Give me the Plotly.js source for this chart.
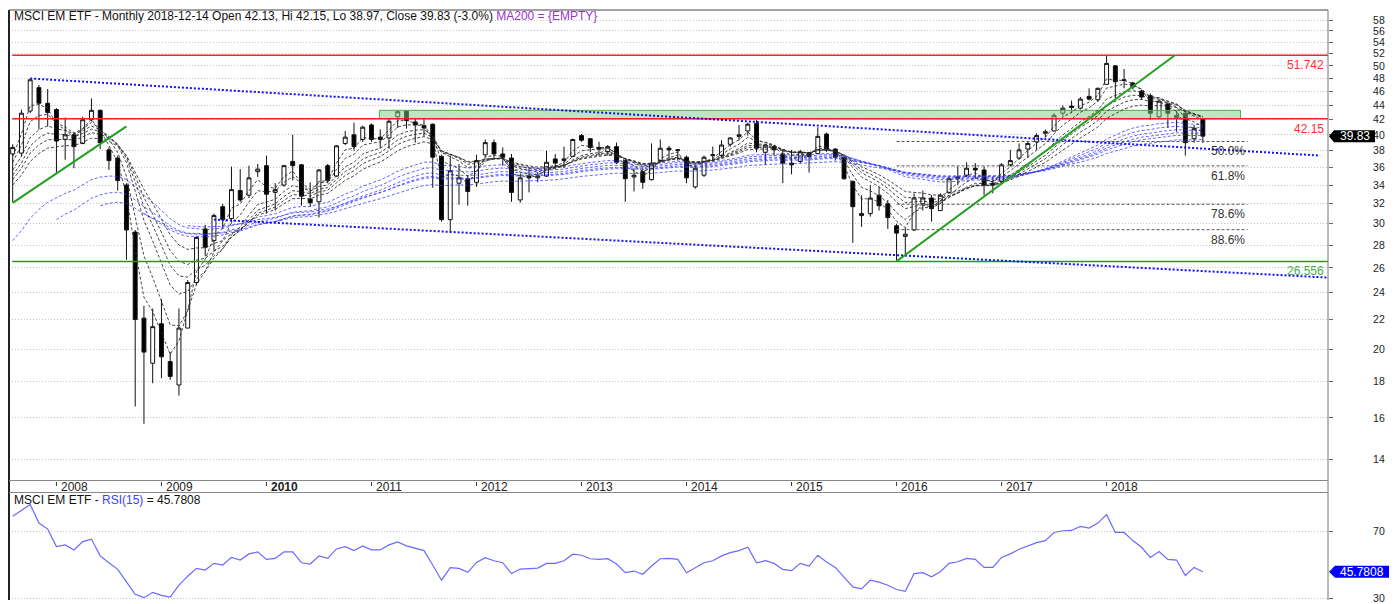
<!DOCTYPE html>
<html>
<head>
<meta charset="utf-8">
<script src="https://cdn.plot.ly/plotly-3.0.1.min.js"></script>
<style>
html,body{margin:0;padding:0;background:#ffffff;}
#chart{width:1394px;height:604px;}
</style>
</head>
<body>
<div id="chart"></div>
<script>
// ---------- DATA (monthly bars, Aug 2007 .. Dec 2018) ----------
const firstMonth = '2007-08';
const open = [37.6,37.7,43.2,46.6,44.3,
  43.4,39.4,40.0,38.9,42.0,43.3,38.1,37.1,34.0,29.2,22.1,19.1,
  21.7,19.2,17.8,21.4,24.8,29.5,28.4,31.7,30.5,33.4,32.9,35.5,
  36.2,33.2,34.0,36.7,36.3,32.5,32.2,36.2,35.0,38.9,40.0,39.4,
  41.3,39.7,39.6,42.4,43.2,41.7,41.2,41.4,37.3,30.4,34.2,34.7,
  34.3,37.5,39.0,37.6,37.1,32.4,35.0,34.8,35.0,37.0,36.8,37.3,
  39.9,39.5,38.4,37.9,38.5,36.8,34.9,35.5,34.6,36.8,38.3,38.0,
  37.2,33.8,35.1,37.4,37.4,38.8,39.8,40.5,41.5,37.8,38.5,37.6,
  36.5,36.7,37.7,37.65,40.1,38.2,37.2,34.4,30.8,31.0,32.9,32.0,
  29.8,28.8,29.4,32.0,32.6,31.3,33.2,34.7,35.1,35.9,35.7,34.2,
  34.4,36.3,37.1,38.2,39.1,40.2,40.5,42.9,43.9,43.6,45.3,44.8,
  47.1,50.0,47.8,47.3,46.1,45.4,42.4,44.2,42.3,42.9,39.5,42.13];
const high = [38.8,43.4,48.0,47.0,46.4,
  43.6,42.3,40.4,42.4,45.0,43.4,38.4,37.4,34.2,29.4,23.0,22.8,
  23.5,19.8,22.8,25.0,28.8,29.9,31.0,32.0,36.1,35.8,36.2,36.4,
  37.4,34.2,36.3,40.0,36.4,34.3,35.8,36.4,38.7,40.5,41.6,41.2,
  41.5,40.7,42.1,43.3,43.3,42.1,42.2,41.5,37.5,37.4,36.4,35.1,
  37.5,39.4,39.4,38.4,37.6,35.3,35.9,35.4,38.0,37.6,38.5,39.5,
  40.1,39.6,39.1,38.7,39.0,37.0,35.9,35.9,38.9,39.4,38.6,38.2,
  37.4,36.3,37.4,38.5,39.3,39.7,41.3,41.6,42.0,38.8,38.7,38.2,
  38.1,38.1,37.85,41.0,40.3,38.3,37.3,34.5,32.9,34.0,33.8,32.4,
  30.0,29.6,33.1,33.4,32.9,33.1,34.9,36.1,36.6,36.5,36.1,34.9,
  36.5,38.1,38.9,39.1,40.2,40.7,42.9,44.0,44.7,45.2,46.5,46.6,
  51.742,50.1,49.5,47.5,46.3,45.7,44.8,44.4,43.3,43.0,41.3,42.15];
const low = [32.2,37.3,42.9,40.7,41.1,
  35.3,36.9,35.9,38.8,41.8,38.2,35.7,33.4,26.7,16.6,15.7,17.9,
  18.2,18.1,17.2,21.4,24.6,27.0,27.5,29.5,30.1,32.2,32.6,34.9,
  31.0,31.3,33.8,34.5,31.8,31.7,30.6,34.2,34.9,38.7,38.0,39.1,
  39.1,38.3,38.2,40.9,40.8,39.0,39.8,33.7,30.2,29.2,31.9,31.8,
  33.8,37.2,37.1,36.2,32.2,32.1,33.2,34.3,34.9,35.8,35.9,37.2,
  39.1,37.8,37.4,37.4,36.4,32.2,33.3,33.6,34.5,36.6,36.9,36.8,
  34.2,33.6,34.9,36.7,37.2,38.5,39.3,39.9,37.8,36.3,37.4,34.2,
  35.2,36.5,35.4,37.6,37.85,36.8,34.6,28.2,29.7,30.7,31.3,29.5,
  26.556,27.2,29.3,31.3,30.2,31.3,33.1,34.0,34.9,34.7,32.9,33.1,
  34.2,36.1,36.9,37.1,38.1,39.7,40.4,42.5,42.9,43.4,44.7,44.5,
  47.0,45.0,46.5,46.3,44.8,42.0,42.2,40.9,40.4,37.4,39.0,38.97];
const close = [38.4,42.9,47.8,44.3,43.0,
  39.2,40.0,38.5,42.0,43.3,39.0,36.8,34.5,29.4,22.0,19.8,21.5,
  19.5,18.3,21.4,24.8,28.7,27.8,30.8,30.4,33.5,32.4,34.8,35.8,
  33.0,33.5,36.2,36.2,32.8,32.1,35.7,34.5,38.6,39.7,38.5,41.0,
  39.4,39.4,41.8,43.1,41.9,41.3,40.9,37.2,30.4,35.6,34.8,33.3,
  36.8,39.0,37.6,37.2,33.2,34.8,34.8,35.0,36.6,36.5,37.0,39.4,
  39.3,38.4,38.2,38.5,36.6,34.7,35.1,34.3,36.5,38.3,38.1,38.1,
  34.8,35.9,37.2,37.5,38.7,39.6,40.0,41.4,38.3,38.7,38.1,36.5,
  36.3,37.85,37.3,39.8,38.2,37.2,34.7,31.7,31.0,32.6,31.8,30.6,
  29.1,29.0,32.6,32.6,31.5,32.9,34.7,34.9,35.9,35.7,34.0,34.0,
  36.3,36.8,38.1,38.9,39.9,40.4,42.6,43.6,43.7,44.9,44.9,46.5,
  50.4,47.5,47.7,46.7,45.2,42.9,44.6,42.9,42.6,39.0,40.8,39.83];
const rsi = [79.1,82.5,86.2,75.0,71.4,
  60.9,61.9,58.9,63.9,65.4,55.3,51.2,47.2,39.7,32.2,30.2,33.4,
  31.6,30.6,37.7,43.1,47.8,46.8,50.8,49.8,54.4,52.8,56.5,57.7,
  53.2,53.8,57.7,57.7,51.2,50.4,55.3,53.8,59.5,60.9,58.5,61.3,
  58.9,58.9,61.9,63.7,61.3,59.7,58.5,49.8,40.7,48.2,47.8,45.4,
  51.4,54.2,52.4,51.2,44.7,47.4,47.6,48.0,50.8,50.8,52.4,56.3,
  55.7,53.6,53.2,53.6,50.4,45.2,46.2,44.3,49.2,53.6,53.8,53.2,
  45.2,48.3,51.2,52.4,55.3,57.3,58.5,60.5,51.2,52.4,50.8,47.2,
  46.4,50.8,49.2,55.7,51.6,48.4,42.7,36.7,35.5,40.7,39.5,37.7,
  35.1,34.0,44.7,45.2,42.7,45.8,50.8,51.8,53.8,53.2,48.4,48.4,
  54.4,56.5,59.3,61.3,63.3,64.5,69.4,70.4,70.6,73.0,72.0,75.0,
  80.1,69.4,69.4,64.5,60.5,54.4,57.9,53.2,52.8,43.5,48.4,45.7808];

// year tick labels and the bar index of each January
const yearLabels = ['2008','2009','2010','2011','2012','2013','2014','2015','2016','2017','2018'];
const yearBar    = [5,17,29,41,53,65,77,89,101,113,125];

// GMMA exponential averages: periods, first bar drawn and the value read there
const shortPeriods = [3,5,8,10,12,15];
const shortSeeds   = [37.3,36.6,35.7,35.1,34.6,34.0];
const longPeriods  = [30,35,40,45,50,60];
const longStart    = [0,5,10,15,20,30];
const longSeeds    = [28.4,30.4,31.8,31.0,29.8,30.2];

// drawn objects (bar index, price)
const levelValues = [51.742, 42.15, 26.556];
const levelNames  = ['51.742','42.15','26.556'];
const channelTop  = {x:[2, 149.4],  y:[48.0, 37.4]};
const channelLow  = {x:[23, 150.3], y:[30.4, 25.2]};
const supportA    = {x:[0, 13.0],   y:[32.1, 41.1]};
const supportB    = {x:[101, 132.8], y:[26.556, 51.742]};
const zoneBox     = {x:[41.9, 140.3], y:[42.15, 43.3]};
const fibRatios   = [0.5, 0.618, 0.786, 0.886];
const fibLabels   = ['50.0%','61.8%','78.6%','88.6%'];
const fibSpan     = {x:[101, 141.1], low:26.556, high:51.742};

const titleText = 'MSCI EM ETF - Monthly 2018-12-14 Open 42.13, Hi 42.15, Lo 38.97, Close 39.83 (-3.0%) ';
const maText = 'MA200 = {EMPTY}';
const rsiPeriod = 15;

// ---------- BUILD ----------
const n = close.length;
const idx = close.map((_, i) => i);
const L = 9, R = 1328, T = 10, B = 600;
const fx = px => (px - L) / (R - L);
const fy = py => (B - py) / (B - T);
const FONT = 'Arial, "Liberation Sans", sans-serif';

function ema(period, start, seed) {
  const out = new Array(n).fill(null);
  let v = seed; out[start] = v;
  const k = 2 / (period + 1);
  for (let i = start + 1; i < n; i++) { v = v + k * (close[i] - v); out[i] = v; }
  return out;
}

const traces = [];
traces.push({
  type: 'candlestick', x: idx, open: open, high: high, low: low, close: close,
  xaxis: 'x', yaxis: 'y', whiskerwidth: 0, hoverinfo: 'skip', showlegend: false,
  increasing: {line: {color: '#111', width: 1}, fillcolor: '#ffffff'},
  decreasing: {line: {color: '#111', width: 1}, fillcolor: '#000000'}
});
// zone
traces.push({
  type: 'scatter', mode: 'lines', xaxis: 'x', yaxis: 'y', showlegend: false, hoverinfo: 'skip',
  x: [zoneBox.x[0], zoneBox.x[1], zoneBox.x[1], zoneBox.x[0], zoneBox.x[0]],
  y: [zoneBox.y[0], zoneBox.y[0], zoneBox.y[1], zoneBox.y[1], zoneBox.y[0]],
  fill: 'toself', fillcolor: 'rgba(130,200,130,0.5)', line: {color: '#4cae4c', width: 1}
});
// long GMMA
longPeriods.forEach((p, j) => traces.push({
  type: 'scatter', mode: 'lines', xaxis: 'x', yaxis: 'y', showlegend: false, hoverinfo: 'skip',
  x: idx, y: ema(p, longStart[j], longSeeds[j]),
  line: {color: 'rgba(50,50,255,0.75)', width: 1, dash: '3px,2px'}
}));
// short GMMA
shortPeriods.forEach((p, j) => traces.push({
  type: 'scatter', mode: 'lines', xaxis: 'x', yaxis: 'y', showlegend: false, hoverinfo: 'skip',
  x: idx, y: ema(p, 0, shortSeeds[j]),
  line: {color: 'rgba(40,40,40,0.85)', width: 1, dash: '3px,2px'}
}));
// fib levels
const fibValues = fibRatios.map(r => fibSpan.high - r * (fibSpan.high - fibSpan.low));
fibValues.forEach(v => traces.push({
  type: 'scatter', mode: 'lines', xaxis: 'x', yaxis: 'y', showlegend: false, hoverinfo: 'skip',
  x: fibSpan.x, y: [v, v], line: {color: '#555', width: 1, dash: '3px,2px'}
}));
// horizontal levels
const levelColors = ['#ff2020', '#ff2020', '#229922'];
levelValues.forEach((v, j) => traces.push({
  type: 'scatter', mode: 'lines', xaxis: 'x', yaxis: 'y', showlegend: false, hoverinfo: 'skip',
  x: [-0.05, 150.3], y: [v, v], line: {color: levelColors[j], width: 1.5}
}));
// channel (blue dotted)
[channelTop, channelLow].forEach(t => traces.push({
  type: 'scatter', mode: 'lines', xaxis: 'x', yaxis: 'y', showlegend: false, hoverinfo: 'skip',
  x: t.x, y: t.y, line: {color: '#1010ff', width: 2, dash: '2px,2px'}
}));
// green supports
[supportA, supportB].forEach(t => traces.push({
  type: 'scatter', mode: 'lines', xaxis: 'x', yaxis: 'y', showlegend: false, hoverinfo: 'skip',
  x: t.x, y: t.y, line: {color: '#22a022', width: 2}
}));
// RSI
traces.push({
  type: 'scatter', mode: 'lines', xaxis: 'x2', yaxis: 'y2', showlegend: false, hoverinfo: 'skip',
  x: idx, y: rsi, line: {color: '#6a6aff', width: 1.2}
});

const priceTicks = [];
for (let v = 14; v <= 58; v += 2) priceTicks.push(v);

const shapes = [
  {type: 'line', xref: 'paper', yref: 'paper', x0: 0, x1: 0, y0: 0, y1: 1, line: {color: '#222', width: 2}},
  {type: 'line', xref: 'paper', yref: 'paper', x0: 0, x1: 1, y0: 1, y1: 1, line: {color: '#444', width: 1}},
  {type: 'line', xref: 'paper', yref: 'paper', x0: 1, x1: 1, y0: 0, y1: 1, line: {color: '#777', width: 1}},
  {type: 'line', xref: 'paper', yref: 'paper', x0: 0, x1: 1, y0: fy(480.5), y1: fy(480.5), line: {color: '#888', width: 1}},
  {type: 'line', xref: 'paper', yref: 'paper', x0: 0, x1: 1, y0: fy(492.5), y1: fy(492.5), line: {color: '#888', width: 1}}
];
yearBar.forEach(b => shapes.push({
  type: 'line', xref: 'x', yref: 'paper', x0: b, x1: b, y0: fy(486), y1: fy(482), line: {color: '#333', width: 1}
}));
// value tags
const lastClose = close[n - 1], lastRsi = rsi[n - 1];
shapes.push({
  type: 'path', xref: 'paper', yref: 'y', ysizemode: 'pixel', yanchor: lastClose,
  path: `M ${fx(1329)},0 L ${fx(1334)},6 L ${fx(1375)},6 L ${fx(1375)},-6 L ${fx(1334)},-6 Z`,
  fillcolor: '#000', line: {width: 0}
});
shapes.push({
  type: 'path', xref: 'paper', yref: 'y2', ysizemode: 'pixel', yanchor: lastRsi,
  path: `M ${fx(1329)},0 L ${fx(1335)},6 L ${fx(1389)},6 L ${fx(1389)},-6 L ${fx(1335)},-6 Z`,
  fillcolor: '#0000ff', line: {width: 0}
});

const annotations = [];
annotations.push({
  xref: 'paper', yref: 'paper', x: fx(12), y: fy(16), xanchor: 'left', yanchor: 'middle', showarrow: false,
  text: titleText + '<span style="color:#9933cc">' + maText + '</span>',
  font: {family: FONT, size: 12, color: '#111'}
});
annotations.push({
  xref: 'paper', yref: 'paper', x: fx(12), y: fy(500), xanchor: 'left', yanchor: 'middle', showarrow: false,
  text: 'MSCI EM ETF - <span style="color:#3344ff">RSI(' + rsiPeriod + ')</span> = ' + lastRsi,
  font: {family: FONT, size: 12, color: '#111'}
});
yearLabels.forEach((t, j) => annotations.push({
  xref: 'x', yref: 'paper', x: yearBar[j] + 0.3, y: fy(487), xanchor: 'left', yanchor: 'middle', showarrow: false,
  text: t === '2010' ? '<b>' + t + '</b>' : t, font: {family: FONT, size: 12, color: '#222'}
}));
const levelTextColors = ['#ff3030', '#ff3030', '#44b044'];
levelValues.forEach((v, j) => annotations.push({
  xref: 'paper', yref: 'y', x: fx(1326), y: Math.log10(v), xanchor: 'right', yanchor: 'top', yshift: -1,
  showarrow: false, text: levelNames[j], font: {family: FONT, size: 12, color: levelTextColors[j]}
}));
fibValues.forEach((v, j) => annotations.push({
  xref: 'x', yref: 'y', x: fibSpan.x[1], y: Math.log10(v), xanchor: 'right', yanchor: 'top', yshift: -1,
  showarrow: false, text: fibLabels[j], font: {family: FONT, size: 12, color: '#333'}
}));
annotations.push({
  xref: 'paper', yref: 'y', x: fx(1354.5), y: Math.log10(lastClose), xanchor: 'center', yanchor: 'middle',
  showarrow: false, text: lastClose.toFixed(2), font: {family: FONT, size: 12, color: '#fff'}
});
annotations.push({
  xref: 'paper', yref: 'y2', x: fx(1362), y: lastRsi, xanchor: 'center', yanchor: 'middle',
  showarrow: false, text: String(lastRsi), font: {family: FONT, size: 12, color: '#fff'}
});

const axisCommon = {
  side: 'right', showgrid: true, gridcolor: '#c4c4c4', griddash: '1px,2px', gridwidth: 1,
  zeroline: false, showline: false, ticks: 'outside', ticklen: 4, tickcolor: '#666',
  ticklabelstandoff: 38, tickfont: {family: FONT, size: 10.5, color: '#222'}, fixedrange: true
};

const layout = {
  width: 1394, height: 604,
  margin: {l: L, r: 1394 - R, t: T, b: 604 - B},
  paper_bgcolor: '#ffffff', plot_bgcolor: '#ffffff',
  showlegend: false, boxgap: 0.36,
  xaxis: {anchor: 'y', domain: [0, 1], range: [-0.42, 150.3], showticklabels: false, showgrid: false,
    zeroline: false, showline: false, ticks: '', rangeslider: {visible: false}, fixedrange: true},
  xaxis2: {anchor: 'y2', domain: [0, 1], range: [-0.42, 150.3], matches: 'x', showticklabels: false,
    showgrid: false, zeroline: false, showline: false, ticks: '', fixedrange: true},
  yaxis: Object.assign({}, axisCommon, {anchor: 'x', type: 'log', domain: [fy(480), 1],
    range: [1.1169, 1.7775], tickvals: priceTicks, ticktext: priceTicks.map(String)}),
  yaxis2: Object.assign({}, axisCommon, {anchor: 'x2', domain: [0, fy(492)],
    range: [28.8, 93.7], tickvals: [30, 70], ticktext: ['30', '70']}),
  shapes: shapes,
  annotations: annotations
};

Plotly.newPlot('chart', traces, layout, {staticPlot: true, displayModeBar: false});
</script>
</body>
</html>
